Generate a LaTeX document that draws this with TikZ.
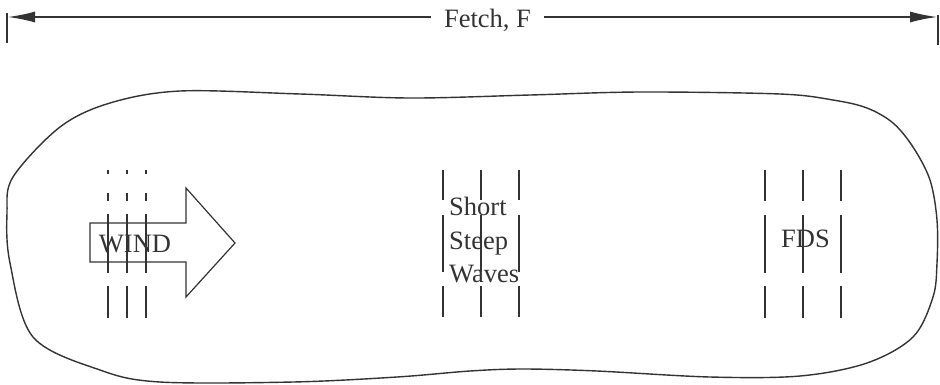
\documentclass[tikz,border=0pt]{standalone}
\usepackage{fontspec}
\setmainfont{Liberation Serif}
\usetikzlibrary{arrows.meta}
\definecolor{ink}{HTML}{333333}
\tikzset{
  every node/.style={text=ink, font=\fontsize{26.5}{33.5}\selectfont, inner sep=0pt},
  dimline/.style={draw=ink, line width=1.5pt, -{Latex[length=27pt,width=11pt]}},
  tickline/.style={draw=ink, line width=1.5pt},
  outline/.style={draw=ink, line width=1.4pt},
  crest/.style={draw=ink, line width=1.9pt},
  windarrow/.style={draw=ink, line width=1.2pt},
}
\begin{document}
\begin{tikzpicture}[x=1pt, y=-1pt]
\useasboundingbox (0,0) rectangle (940,384);

% fetch dimension line
\coordinate (lt) at (8,17);
\coordinate (rt) at (937,17);
\draw[tickline] (7,13) -- (7,43);
\draw[tickline] (938,15) -- (938,45);
\node[anchor=base, inner xsep=13pt] (fetch) at (487.5,27) {Fetch, F};
\draw[dimline] (fetch.west |- lt) -- (lt);
\draw[dimline] (fetch.east |- rt) -- (rt);

% outline of the water body
\draw[outline] plot[smooth cycle, tension=0.55] coordinates {
  (180,91) (300,94) (410,98) (530,95) (640,92) (780,94) (833,100)
  (867,108) (893,123) (913,147) (930,180) (937,220) (937,263) (933,297)
  (913,337) (867,363) (800,376) (710,377) (597,371) (523,369) (470,371)
  (397,377) (293,382) (160,382) (100,370) (33,337) (10,263) (7,213)
  (13,177) (60,127) (110,103)
};

% wind arrow
\draw[windarrow] (90,223) -- (186,223) -- (186,188) -- (235,243)
  -- (186,297) -- (186,262) -- (90,262) -- cycle;

% wave crests in the generation zone
\foreach \x in {108,127,146} {
  \draw[crest] (\x,170) -- (\x,174);
  \draw[crest] (\x,193) -- (\x,201);
  \draw[crest] (\x,214) -- (\x,273);
  \draw[crest] (\x,286) -- (\x,318);
}
% wave crests of short steep waves
\foreach \x in {443,481,519} {
  \draw[crest] (\x,170) -- (\x,200);
  \draw[crest] (\x,215) -- (\x,272);
  \draw[crest] (\x,286) -- (\x,317);
}
% wave crests of the fully developed sea
\foreach \x in {765,803,841} {
  \draw[crest] (\x,170) -- (\x,201);
  \draw[crest] (\x,215) -- (\x,273);
  \draw[crest] (\x,286) -- (\x,318);
}

\node[anchor=base] (wind) at (135,252) {WIND};
\node[anchor=north west, align=left] (ssw) at (449,197) {Short\\Steep\\Waves};
\node[anchor=base] (fds) at (805.5,247) {FDS};
\end{tikzpicture}
\end{document}
